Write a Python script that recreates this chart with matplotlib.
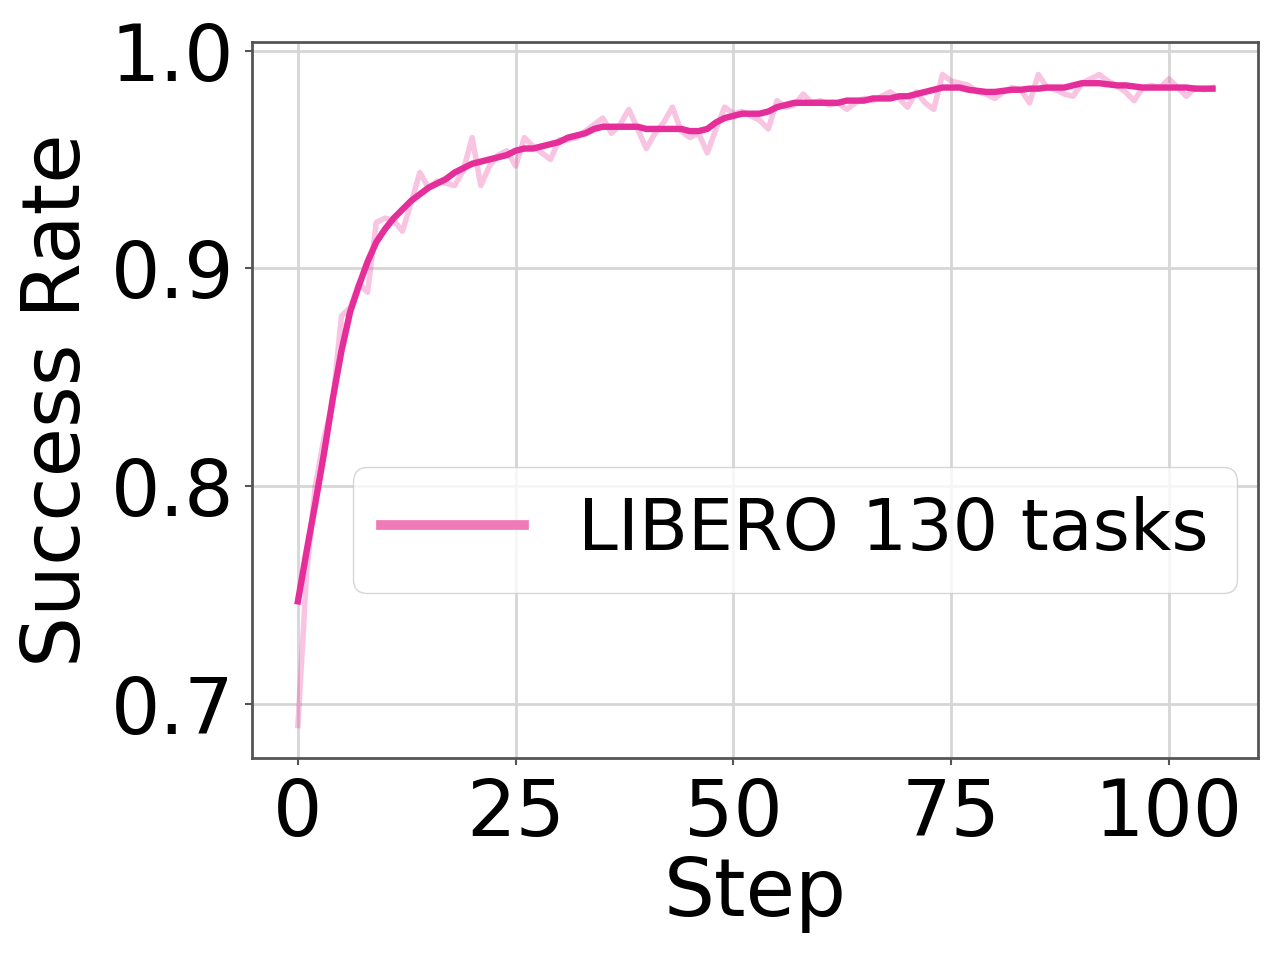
import matplotlib
matplotlib.use("Agg")
import matplotlib.pyplot as plt
import numpy as np

steps = list(range(0, 106))

success_smoothed = [
    0.747, 0.770, 0.792, 0.815, 0.840, 0.862, 0.880, 0.892, 0.903, 0.912,
    0.918, 0.923, 0.927, 0.931, 0.934, 0.937, 0.939, 0.941, 0.944, 0.946,
    0.948, 0.949, 0.950, 0.951, 0.952, 0.954, 0.955, 0.955, 0.956, 0.957,
    0.958, 0.960, 0.961, 0.962, 0.964, 0.965, 0.965, 0.965, 0.965, 0.965,
    0.964, 0.964, 0.964, 0.964, 0.964, 0.963, 0.963, 0.964, 0.967, 0.969,
    0.970, 0.971, 0.971, 0.971, 0.972, 0.974, 0.975, 0.976, 0.976, 0.976,
    0.976, 0.976, 0.976, 0.977, 0.977, 0.977, 0.978, 0.978, 0.978, 0.979,
    0.979, 0.980, 0.981, 0.982, 0.983, 0.983, 0.983, 0.982, 0.9815, 0.981,
    0.981, 0.9815, 0.982, 0.982, 0.9825, 0.9825, 0.983, 0.983, 0.983, 0.984,
    0.985, 0.985, 0.985, 0.9845, 0.984, 0.984, 0.9835, 0.983, 0.983, 0.983,
    0.983, 0.983, 0.983, 0.9825, 0.9825, 0.9825,
]

success_raw = [
    0.690, 0.760, 0.800, 0.822, 0.838, 0.878, 0.882, 0.893, 0.889, 0.921,
    0.923, 0.922, 0.917, 0.930, 0.944, 0.937, 0.940, 0.939, 0.938, 0.945,
    0.960, 0.938, 0.947, 0.952, 0.954, 0.947, 0.960, 0.956, 0.953, 0.950,
    0.959, 0.959, 0.960, 0.963, 0.966, 0.969, 0.962, 0.966, 0.973, 0.964,
    0.955, 0.962, 0.967, 0.974, 0.963, 0.960, 0.962, 0.953, 0.964, 0.974,
    0.971, 0.972, 0.970, 0.968, 0.964, 0.977, 0.974, 0.975, 0.980, 0.976,
    0.977, 0.975, 0.976, 0.973, 0.976, 0.978, 0.977, 0.979, 0.981, 0.978,
    0.974, 0.981, 0.976, 0.973, 0.989, 0.986, 0.985, 0.984, 0.981, 0.980,
    0.978, 0.981, 0.983, 0.982, 0.976, 0.989, 0.983, 0.982, 0.980, 0.979,
    0.985, 0.987, 0.989, 0.986, 0.984, 0.981, 0.977, 0.983, 0.984, 0.983,
    0.987, 0.983, 0.979, 0.983, 0.982, 0.983,
]

series_label = "LIBERO 130 tasks"
x_label = "Step"
y_label = "Success Rate"
x_ticks = [0, 25, 50, 75, 100]
y_ticks = [0.7, 0.8, 0.9, 1.0]

line_color = "#E62E9A"

fig = plt.figure(figsize=(12.8, 9.6), dpi=100)
ax = fig.add_axes([0.197, 0.2104, 0.786, 0.7459])

ax.plot(steps, success_raw, color=line_color, alpha=0.28, linewidth=4.0,
        solid_joinstyle="round", zorder=2)
ax.plot(steps, success_smoothed, color=line_color, linewidth=4.6, label=series_label,
        solid_joinstyle="round", zorder=3)

ax.set_xticks(x_ticks)
ax.set_yticks(y_ticks)
ax.set_yticklabels([f"{v:.1f}" for v in y_ticks])
ax.tick_params(axis="both", labelsize=56, length=5, width=1.5, color="#555555", pad=8)
ax.grid(True, color="#d6d6d6", linewidth=2.0)
ax.set_axisbelow(True)
for s in ax.spines.values():
    s.set_color("#555555")
    s.set_linewidth(2.0)

ax.set_xlabel(x_label, fontsize=58, labelpad=2)
ax.set_ylabel(y_label, fontsize=58, labelpad=10)

leg = ax.legend(loc="center right", bbox_to_anchor=(0.979, 0.318), borderaxespad=0,
                fontsize=51.5, handlelength=2.0, handletextpad=0.75, framealpha=0.8)
leg.get_lines()[0].set_color("#F07AB8")
leg.get_lines()[0].set_linewidth(7)

fig.savefig("out.png", dpi=100)
